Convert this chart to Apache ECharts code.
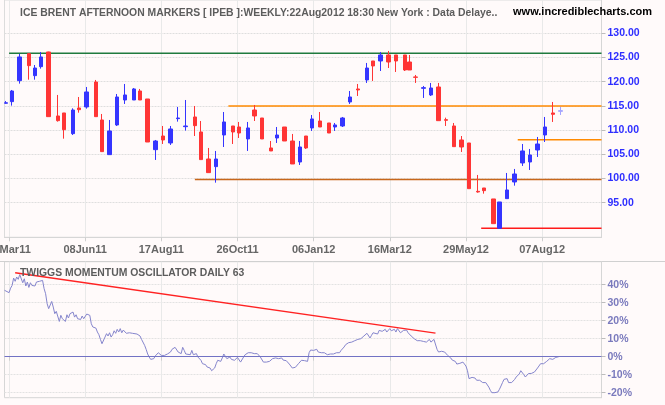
<!DOCTYPE html>
<html><head><meta charset="utf-8">
<script src="https://cdn.jsdelivr.net/npm/echarts@6/dist/echarts.min.js"></script>
<style>html,body{margin:0;padding:0;background:#fffafa}#c{width:665px;height:405px}</style>
</head><body><div id="c"></div>
<script>
// ---- data ----
const dayCount = 393; // trading-day slots across the x axis
const tickDays = [3, 53, 103, 153, 203, 253, 303, 353];
const tickLabels = ['30Mar11', '08Jun11', '17Aug11', '26Oct11', '06Jan12', '16Mar12', '29May12', '07Aug12'];

const candleDay = [1,5,10,16,20,24,29,35,39,45,49,54,60,64,69,74,79,85,89,94,99,104,109,114,119,125,129,134,139,144,150,154,160,164,169,175,179,184,189,194,198,202,207,213,217,222,227,232,238,242,247,252,257,263,266,270,275,280,285,290,295,300,305,311,315,321,325,330,335,340,345,350,355,360,365];
const openP  = [115.55,115.88,120.22,125.8,121.25,123.11,126.14,112.92,113.54,109.27,114.57,114.78,119.94,112.09,104.93,111.06,116.22,116.22,118.08,116.43,105.96,108.78,107.34,112.37,110.71,112.71,109.61,104.03,102.45,108.99,110.85,110.64,108.17,114.15,112.5,106.31,108.37,110.64,107.75,103.41,108.78,110.44,111.88,111.47,110.64,110.85,115.81,118.5,120.36,124.28,124.28,125.52,125.52,125.52,124.07,120.98,118.63,117.26,118.91,112.16,110.85,107.96,107.34,97.35,98.04,95.77,89.71,95.84,99.28,103.21,103.41,105.89,108.99,113.54,113.88];
const closeP = [115.65,118.08,125.11,123.32,122.83,125.11,112.78,111.95,110.09,114.15,114.22,117.88,112.78,105.55,109.82,116.84,117.26,118.5,116.22,107.54,107.75,107.96,110.23,112.5,110.85,110.92,103.9,101.21,104.03,111.68,109.61,109.4,110.44,112.92,108.17,105.69,108.99,107.75,103.0,106.51,106.31,112.3,110.64,109.4,111.06,112.5,116.84,118.29,122.83,123.25,125.52,124.07,124.28,122.42,122.42,120.9,118.77,118.7,111.95,112.02,106.58,106.51,97.9,97.21,97.49,90.67,95.15,97.63,100.93,105.69,104.86,107.13,110.64,113.26,114.02];
const lowP   = [115.45,115.05,119.6,120.42,120.42,122.7,112.78,111.75,108.23,108.99,113.6,114.43,112.78,105.55,104.93,110.85,115.4,116.22,116.22,107.54,103.83,107.13,106.93,111.75,109.89,108.78,103.9,101.21,99.14,106.51,107.13,108.37,105.69,111.88,108.17,105.69,107.34,107.75,103.0,102.79,106.1,109.82,110.64,109.4,109.82,110.64,115.4,117.05,119.74,120.15,122.21,122.83,122.01,122.21,122.42,119.74,116.64,117.05,111.95,110.85,106.58,105.48,97.9,97.08,96.87,90.67,89.71,95.84,98.52,102.59,101.76,104.45,107.54,111.68,113.12];
const highP  = [116.0,118.29,125.73,125.85,123.45,126.14,126.2,117.26,113.54,114.5,116.84,118.91,120.36,113.33,112.09,117.46,119.53,118.7,118.5,116.43,107.96,110.85,110.85,114.78,116.22,114.98,111.88,106.31,105.69,113.74,110.85,111.68,111.68,115.19,112.5,107.75,110.64,110.64,109.2,107.75,108.78,113.12,113.74,111.47,111.47,112.71,118.08,119.53,123.87,124.28,126.14,126.35,125.52,125.52,125.52,121.39,119.12,119.74,119.74,112.57,111.47,108.78,107.34,100.73,98.04,95.77,95.15,101.14,101.97,107.13,106.1,108.58,112.71,115.81,114.78];

const levelValues    = [125.87, 115.0, 99.8, 108.0, 89.7];
const levelStartDays = [3, 147, 125, 337, 313];

const trendDays = [7, 283];
const trendVals = [46.7, 13.1];

const oscDays = [0,3,4,5,6,7,8,9,10,11,12,13,14,15,16,17,18,19,20,21,22,23,24,25,26,27,28,29,30,31,32,33,34,35,36,37,38,39,40,41,42,43,45,46,47,48,49,50,51,52,54,55,56,57,58,60,61,62,63,64,65,66,67,68,69,70,71,72,73,74,75,76,77,78,79,80,82,83,84,85,87,88,89,90,91,92,93,94,95,96,97,98,99,100,101,102,103,104,105,106,107,108,109,110,111,112,113,114,116,117,118,119,120,122,123,124,125,126,127,128,129,130,131,132,133,134,135,136,137,138,139,140,141,142,143,144,145,146,147,148,149,150,151,152,153,154,155,156,157,158,159,160,161,162,163,164,165,166,167,168,169,170,171,172,173,174,175,176,177,178,179,180,181,182,183,184,185,186,187,188,189,190,191,192,193,194,195,196,197,198,199,200,201,202,203,204,205,206,207,208,209,210,211,212,213,214,215,216,217,218,219,220,221,222,223,224,225,226,227,228,229,230,231,232,233,234,235,236,237,238,239,240,241,242,243,245,246,247,248,249,250,251,252,253,254,255,256,257,258,259,260,261,262,263,264,265,266,267,268,269,270,271,272,273,274,275,276,277,278,279,280,281,282,283,284,285,286,287,288,289,290,291,292,293,294,295,296,297,298,299,300,301,302,303,304,305,306,307,308,309,310,311,312,313,314,315,316,317,318,319,320,321,322,323,324,325,326,327,328,329,330,331,332,333,334,335,336,337,338,339,340,341,342,343,344,345,346,347,348,349,350,351,352,353,354,355,356,357,358,359,360,361,362,363,364];
const oscVals = [36.9,35.6,38.1,39.6,43.7,41.9,44.3,43.0,45.6,46.1,41.1,43.3,39.3,41.5,38.5,41.1,39.6,40.4,39.3,41.5,40.4,41.9,43.0,42.4,37.8,35.0,29.4,26.7,25.7,30.7,27.6,23.9,25.2,24.8,19.6,23.0,21.1,22.0,19.6,23.3,21.5,23.9,24.8,22.0,23.3,21.1,22.0,20.7,22.6,21.1,23.7,23.9,23.0,18.3,16.5,15.9,13.7,12.2,9.6,7.2,6.3,10.9,12.8,11.5,13.3,10.9,12.2,14.4,13.0,15.2,13.7,15.6,13.3,14.8,14.1,13.0,13.3,13.7,13.0,13.1,12.6,12.2,11.5,9.6,8.5,6.3,4.1,1.5,-0.2,-1.5,-2.4,-1.1,0.4,1.1,2.2,3.0,0.7,-0.2,0.7,0.0,1.5,2.2,2.6,4.1,4.8,5.2,4.1,2.6,1.7,5.2,3.5,1.5,0.7,1.1,3.5,1.1,2.2,1.7,-0.2,0.4,-2.0,-3.9,-4.8,-4.4,-5.7,-6.7,-6.3,-7.8,-8.9,-6.3,-3.9,-2.0,-1.1,-2.6,-0.7,1.5,0.7,-1.1,-1.5,-0.2,-1.5,-1.1,-2.0,-1.5,-0.4,-1.5,-3.0,-2.2,-0.2,1.1,1.5,2.2,3.0,2.2,2.6,1.7,2.2,1.7,2.2,-0.2,-1.1,-3.0,-2.6,-3.0,-3.3,-2.6,-3.3,-1.1,-2.0,-0.7,-0.2,-1.1,-2.2,-0.7,-1.9,-1.1,-2.2,-3.0,-4.1,-5.2,-6.3,-7.0,-5.9,-5.2,-3.9,-3.3,-2.0,-3.0,-2.2,-3.0,-2.6,2.2,3.7,2.6,3.5,3.0,4.1,2.6,3.3,2.2,1.7,2.2,1.5,1.1,0.7,1.5,0.7,1.5,1.7,2.2,2.6,2.2,3.5,4.1,5.4,6.7,6.3,7.8,7.2,8.1,8.5,8.9,8.5,9.6,10.4,10.0,10.9,11.5,12.2,13.0,12.6,10.4,11.9,13.3,13.1,12.6,14.6,15.2,14.1,13.7,15.2,13.7,14.6,15.6,14.4,13.3,15.2,13.7,15.6,14.8,13.3,14.1,14.6,13.7,14.8,13.3,12.6,11.5,11.9,10.0,10.4,8.9,8.1,8.9,7.8,8.5,9.1,8.1,8.9,9.6,8.1,8.9,9.6,8.9,4.1,2.6,2.2,3.0,2.2,2.6,1.9,0.7,1.1,-0.7,-1.9,-1.1,-2.6,-4.1,-4.4,-3.7,-3.9,-3.0,-3.7,-5.2,-7.8,-12.2,-12.6,-11.5,-10.4,-11.9,-13.1,-13.7,-13.1,-13.7,-14.4,-14.1,-14.4,-15.0,-16.9,-18.7,-20.0,-20.7,-20.0,-19.3,-19.6,-18.1,-16.3,-14.4,-12.6,-13.7,-12.2,-14.4,-15.0,-14.4,-14.4,-12.6,-11.3,-10.7,-9.6,-7.8,-8.9,-10.0,-11.3,-10.4,-9.4,-8.9,-9.3,-9.3,-8.5,-7.8,-6.3,-5.2,-3.9,-3.3,-3.9,-3.0,-2.6,-2.2,-1.1,-1.1,-1.5,-0.4,-0.4,0.4,0.0];

const priceTicks = [95, 100, 105, 110, 115, 120, 125, 130];
const oscTicks = [-20, -10, 0, 10, 20, 30, 40];

// ---- build ----
const cats = Array.from({length: dayCount}, (_, i) => String(i));
const tickSet = new Set(tickDays);
const labelMap = {};
tickDays.forEach((d, i) => labelMap[d] = tickLabels[i]);
const onTick = (i) => tickSet.has(i);

const candleData = new Array(dayCount).fill('-');
candleDay.forEach((d, i) => {
  const v = [openP[i], closeP[i], lowP[i], highP[i]];
  candleData[d] = (i === candleDay.length - 1)
    ? {value: v, itemStyle: {color: '#a3a3ff', color0: '#a3a3ff', borderColor: '#a3a3ff', borderColor0: '#a3a3ff'}}
    : v;
});

const oscData = new Array(dayCount).fill('-');
oscDays.forEach((d, i) => oscData[d] = oscVals[i]);

const trendData = new Array(dayCount).fill('-');
trendDays.forEach((d, i) => trendData[d] = trendVals[i]);

const levelColors = ['#1f7a3e', '#ff8a00', '#c8661a', '#ff8a00', '#ff1a1a'];
const levelSeries = levelValues.map((v, k) => {
  const arr = new Array(dayCount).fill('-');
  arr[levelStartDays[k]] = v;
  arr[dayCount - 1] = v;
  return {
    type: 'line', xAxisIndex: 0, yAxisIndex: 0, data: arr, connectNulls: true,
    symbol: 'none', silent: true, z: 1,
    lineStyle: {color: levelColors[k], width: 1.5}
  };
});

function xAxisCfg(gi, showLabels) {
  return {
    type: 'category', gridIndex: gi, data: cats, boundaryGap: false,
    axisLine: {show: true, lineStyle: {color: '#d6d6d6'}},
    axisTick: {show: true, interval: onTick, length: 4, lineStyle: {color: '#cfcfcf'}},
    axisLabel: {show: showLabels, interval: onTick, formatter: (v, i) => labelMap[i] || '',
      color: '#666', fontSize: 11, fontWeight: 'bold', fontFamily: 'Liberation Sans, Arial, sans-serif', margin: 7},
    splitLine: {show: true, interval: onTick, lineStyle: {color: '#e9e9e9', width: 1}}
  };
}

const chart = echarts.init(document.getElementById('c'), null, {renderer: 'canvas'});
chart.setOption({
  backgroundColor: '#fffafa',
  animation: false,
  title: [
    {text: 'ICE BRENT AFTERNOON MARKERS [ IPEB ]:WEEKLY:22Aug2012 18:30 New York : Data Delaye..',
     left: 15, top: 3, textStyle: {color: '#5c5c5c', fontSize: 10.4, fontWeight: 'bold', fontFamily: 'Liberation Sans, Arial, sans-serif'}},
    {text: 'www.incrediblecharts.com', right: 8, top: 1,
     textStyle: {color: '#000', fontSize: 11, fontWeight: 'bold', fontFamily: 'Liberation Sans, Arial, sans-serif'}},
    {text: 'TWIGGS MOMENTUM OSCILLATOR DAILY 63', left: 15, top: 263,
     textStyle: {color: '#5c5c5c', fontSize: 10.4, fontWeight: 'bold', fontFamily: 'Liberation Sans, Arial, sans-serif'}}
  ],
  graphic: [
    {type: 'line', silent: true, z: 0, shape: {x1: 0, y1: 261.5, x2: 665, y2: 261.5},
     style: {stroke: '#d0d0d0', lineWidth: 1}}
  ],
  grid: [
    {left: 4.5, right: 63.5, top: 0, height: 237.3, show: true, borderColor: '#dcdcdc', borderWidth: 1,
     containLabel: false, outerBoundsMode: 'none'},
    {left: 4.5, right: 63.5, top: 261.7, height: 136, show: true, borderColor: '#d6d6d6', borderWidth: 1,
     containLabel: false, outerBoundsMode: 'none'}
  ],
  xAxis: [xAxisCfg(0, true), xAxisCfg(1, false)],
  yAxis: [
    {type: 'value', gridIndex: 0, position: 'right', min: 87.85, max: 136.88,
     axisLine: {show: true, lineStyle: {color: '#d6d6d6'}},
     axisTick: {show: true, customValues: priceTicks, length: 4, lineStyle: {color: '#bdbdbd'}},
     axisLabel: {customValues: priceTicks, formatter: v => v.toFixed(2), color: '#2e2eff', fontSize: 10.5,
       fontWeight: 'bold', fontFamily: 'Liberation Sans, Arial, sans-serif', margin: 6},
     splitLine: {show: true, lineStyle: {color: '#dedede', type: [2, 1]}}},
    {type: 'value', gridIndex: 1, position: 'right', min: -22.8, max: 52.8,
     axisLine: {show: true, lineStyle: {color: '#d6d6d6'}},
     axisTick: {show: true, customValues: oscTicks, length: 4, lineStyle: {color: '#bdbdbd'}},
     axisLabel: {customValues: oscTicks, formatter: v => Math.round(v) + '%', color: '#7a7abd', fontSize: 10.5,
       fontWeight: 'bold', fontFamily: 'Liberation Sans, Arial, sans-serif', margin: 6},
     splitLine: {show: true, lineStyle: {color: '#e2e2e2', type: [2, 1]}}}
  ],
  series: [
    ...levelSeries,
    {type: 'candlestick', xAxisIndex: 0, yAxisIndex: 0, data: candleData, barWidth: 4, z: 3,
     itemStyle: {color: '#3535ff', color0: '#ff3535', borderColor: '#3535ff', borderColor0: '#ff3535', borderWidth: 1}},
    {type: 'line', xAxisIndex: 1, yAxisIndex: 1, data: oscData, connectNulls: true, symbol: 'none', z: 3,
     lineStyle: {color: '#8585cc', width: 1},
     markLine: {silent: true, symbol: 'none', label: {show: false},
       lineStyle: {color: '#7272c4', width: 1, type: 'solid'}, data: [{yAxis: 0}]}},
    {type: 'line', xAxisIndex: 1, yAxisIndex: 1, data: trendData, connectNulls: true, symbol: 'none', z: 4,
     lineStyle: {color: '#ff2222', width: 1.5}}
  ]
});
</script></body></html>
